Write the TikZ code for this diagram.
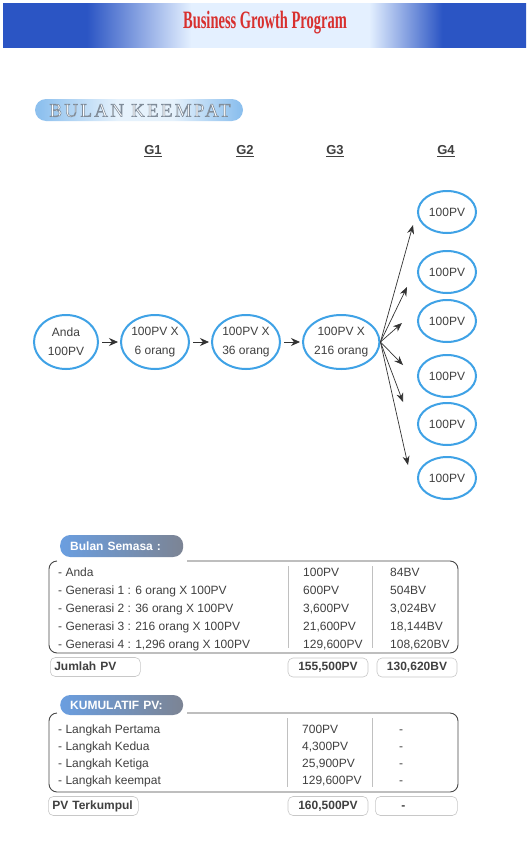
\documentclass[tikz,border=0pt]{standalone}
\usepackage{fontspec}
\setmainfont{Liberation Sans}
\newfontfamily\serifface{Liberation Serif}
\newfontfamily\spacedserif{Liberation Serif}[LetterSpace=12]
\usetikzlibrary{arrows.meta, positioning, shapes.geometric}

\definecolor{bandblue}{HTML}{2B55C4}
\definecolor{bandlight}{HTML}{E4F0FF}
\definecolor{ringblue}{HTML}{3FA2E6}
\definecolor{inkgray}{HTML}{404040}
\definecolor{arrowgray}{HTML}{333333}
\definecolor{pillblue}{HTML}{8DC0EE}
\definecolor{pilllight}{HTML}{E6F2FC}
\definecolor{tagblue}{HTML}{6A9EE0}
\definecolor{taggray}{HTML}{7C8494}
\definecolor{titlered}{HTML}{D8302F}
\definecolor{framegray}{HTML}{474747}
\definecolor{sepgray}{HTML}{C0C0C0}
\definecolor{boxgray}{HTML}{C8C8C8}

\pgfdeclarehorizontalshading{bandshade}{100bp}{color(0bp)=(bandblue); color(33bp)=(bandblue); color(43bp)=(bandlight); color(60bp)=(bandlight); color(67bp)=(bandblue); color(100bp)=(bandblue)}
\pgfdeclarehorizontalshading{pillshade}{100bp}{color(0bp)=(pillblue); color(26bp)=(pillblue); color(45bp)=(pilllight); color(58bp)=(pilllight); color(74bp)=(pillblue); color(100bp)=(pillblue)}

% white letters with a grey outline
\newcommand{\outlinetext}[1]{\special{pdf:code 2 Tr 0.6 w 0.5 0.55 0.6 RG}#1\special{pdf:code 0 Tr}}

\begin{document}
\begin{tikzpicture}[
  x=1pt, y=-1pt,
  ring/.style={ellipse, draw=ringblue, line width=2pt, fill=white, align=center, text=inkgray, font=\fontsize{12}{19}\selectfont, inner sep=0pt, minimum width=68pt, minimum height=54pt},
  leaf/.style={ring, minimum width=58pt, minimum height=42pt},
  link/.style={-{Stealth[length=9pt, width=8pt]}, line width=0.8pt, draw=arrowgray, shorten <=3pt, shorten >=2pt},
  fan/.style={-{Stealth[length=9pt, width=7pt]}, line width=0.7pt, draw=arrowgray},
  colhead/.style={font=\bfseries\fontsize{13}{15}\selectfont, text=inkgray},
  tag/.style={anchor=west, rounded corners=10pt, left color=tagblue, right color=taggray, text=white, font=\bfseries\fontsize{12}{14}\selectfont, minimum height=22pt, inner xsep=10pt, text width=103pt, align=left},
  frame/.style={draw=framegray, line width=0.9pt, rounded corners=8pt},
  sep/.style={draw=sepgray, line width=0.6pt},
  row/.style={anchor=west, inner sep=0pt, text height=9pt, text depth=3pt, text=inkgray, font=\fontsize{12}{14}\selectfont},
  sumbox/.style={draw=boxgray, line width=0.6pt, rounded corners=5pt, minimum height=19pt, inner xsep=4pt, inner ysep=0pt, text height=9pt, text depth=3pt, text=inkgray, font=\bfseries\fontsize{12}{14}\selectfont}
]
\fill[white] (0,0) rectangle (531,862);
\useasboundingbox (0,0) rectangle (531,862);

% banner
\shade[shading=bandshade] (3,3) rectangle (526,47);
\node[font=\serifface\bfseries\fontsize{25}{27}\selectfont, text=titlered] (title) at (265,23) {\scalebox{0.58}[1]{Business Growth Program}};

% month label
\shade[shading=pillshade, rounded corners=11pt] (35,99) rectangle (243,121);
\node[font=\spacedserif\fontsize{19}{21}\selectfont, text=white] (month) at (140,110.5) {\outlinetext{BULAN KEEMPAT}};

% generation headings
\node[colhead] (h1) at (153,151) {\underline{G1}};
\node[colhead] (h2) at (245,151) {\underline{G2}};
\node[colhead] (h3) at (335,151) {\underline{G3}};
\node[colhead] (h4) at (446,151) {\underline{G4}};

% chain
\node[ring, minimum width=64pt] (anda) at (66,342) {Anda\\100PV};
\node[ring, right=21pt of anda] (gen1) {100PV X\\6 orang};
\node[ring, right=21pt of gen1] (gen2) {100PV X\\36 orang};
\node[ring, right=21pt of gen2] (gen3) {100PV X\\216 orang};

\draw[link] (anda) -- (gen1);
\draw[link] (gen1) -- (gen2);
\draw[link] (gen2) -- (gen3);

% fourth generation
\foreach \i/\y/\tx/\ty in {1/212/413/225, 2/272/407/287, 3/321/402/323, 4/376/403/365, 5/424/403/402, 6/478/408/465} {
  \node[leaf] (leaf\i) at (447,\y) {100PV};
  \coordinate (tip\i) at (\tx,\ty);
  \draw[fan] (gen3.east) -- (tip\i);
}

% current month
\draw[frame] (187,561) -- (458,561) -- (458,653) -- (49,653) -- (49,561) -- (57,561);
\draw[sep] (288,566) -- (288,648);
\draw[sep] (372,566) -- (372,648);
\node[tag] (semasa) at (60,546) {Bulan Semasa :};
\foreach \i/\desc/\pv/\bv in {1/{- Anda}/{100PV}/{84BV},
    2/{- Generasi 1 : 6 orang X 100PV}/{600PV}/{504BV},
    3/{- Generasi 2 : 36 orang X 100PV}/{3,600PV}/{3,024BV},
    4/{- Generasi 3 : 216 orang X 100PV}/{21,600PV}/{18,144BV},
    5/{- Generasi 4 : 1,296 orang X 100PV}/{129,600PV}/{108,620BV}} {
  \node[row] (sdesc\i) at (58,555+18*\i) {\desc};
  \node[row] (spv\i) at (303,555+18*\i) {\pv};
  \node[row] (sbv\i) at (390,555+18*\i) {\bv};
}
\node[sumbox, anchor=west, text width=82pt, align=left] (jumlah) at (50,667) {Jumlah PV};
\node[sumbox, minimum width=80pt] (pvsum) at (328,667.5) {155,500PV};
\node[sumbox, minimum width=80pt] (bvsum) at (417,667.5) {130,620BV};

% cumulative
\draw[frame] (187,713) -- (458,713) -- (458,792) -- (49,792) -- (49,713) -- (57,713);
\draw[sep] (287,718) -- (287,787);
\draw[sep] (372,718) -- (372,787);
\node[tag, minimum height=20pt] (kumulatif) at (60,705) {KUMULATIF PV:};
\foreach \i/\desc/\pv in {1/{- Langkah Pertama}/{700PV},
    2/{- Langkah Kedua}/{4,300PV},
    3/{- Langkah Ketiga}/{25,900PV},
    4/{- Langkah keempat}/{129,600PV}} {
  \node[row] (kdesc\i) at (58,713+17*\i) {\desc};
  \node[row] (kpv\i) at (302,713+17*\i) {\pv};
  \node[row] (kbv\i) at (399,713+17*\i) {-};
}
\node[sumbox, anchor=west, text width=82pt, align=left] (terkumpul) at (48,806) {PV Terkumpul};
\node[sumbox, minimum width=80pt] (pvcum) at (328,806) {160,500PV};
\node[sumbox, anchor=west, text width=74pt, align=left] (bvcum) at (375,806) {\hspace*{22pt}-};
\end{tikzpicture}
\end{document}
